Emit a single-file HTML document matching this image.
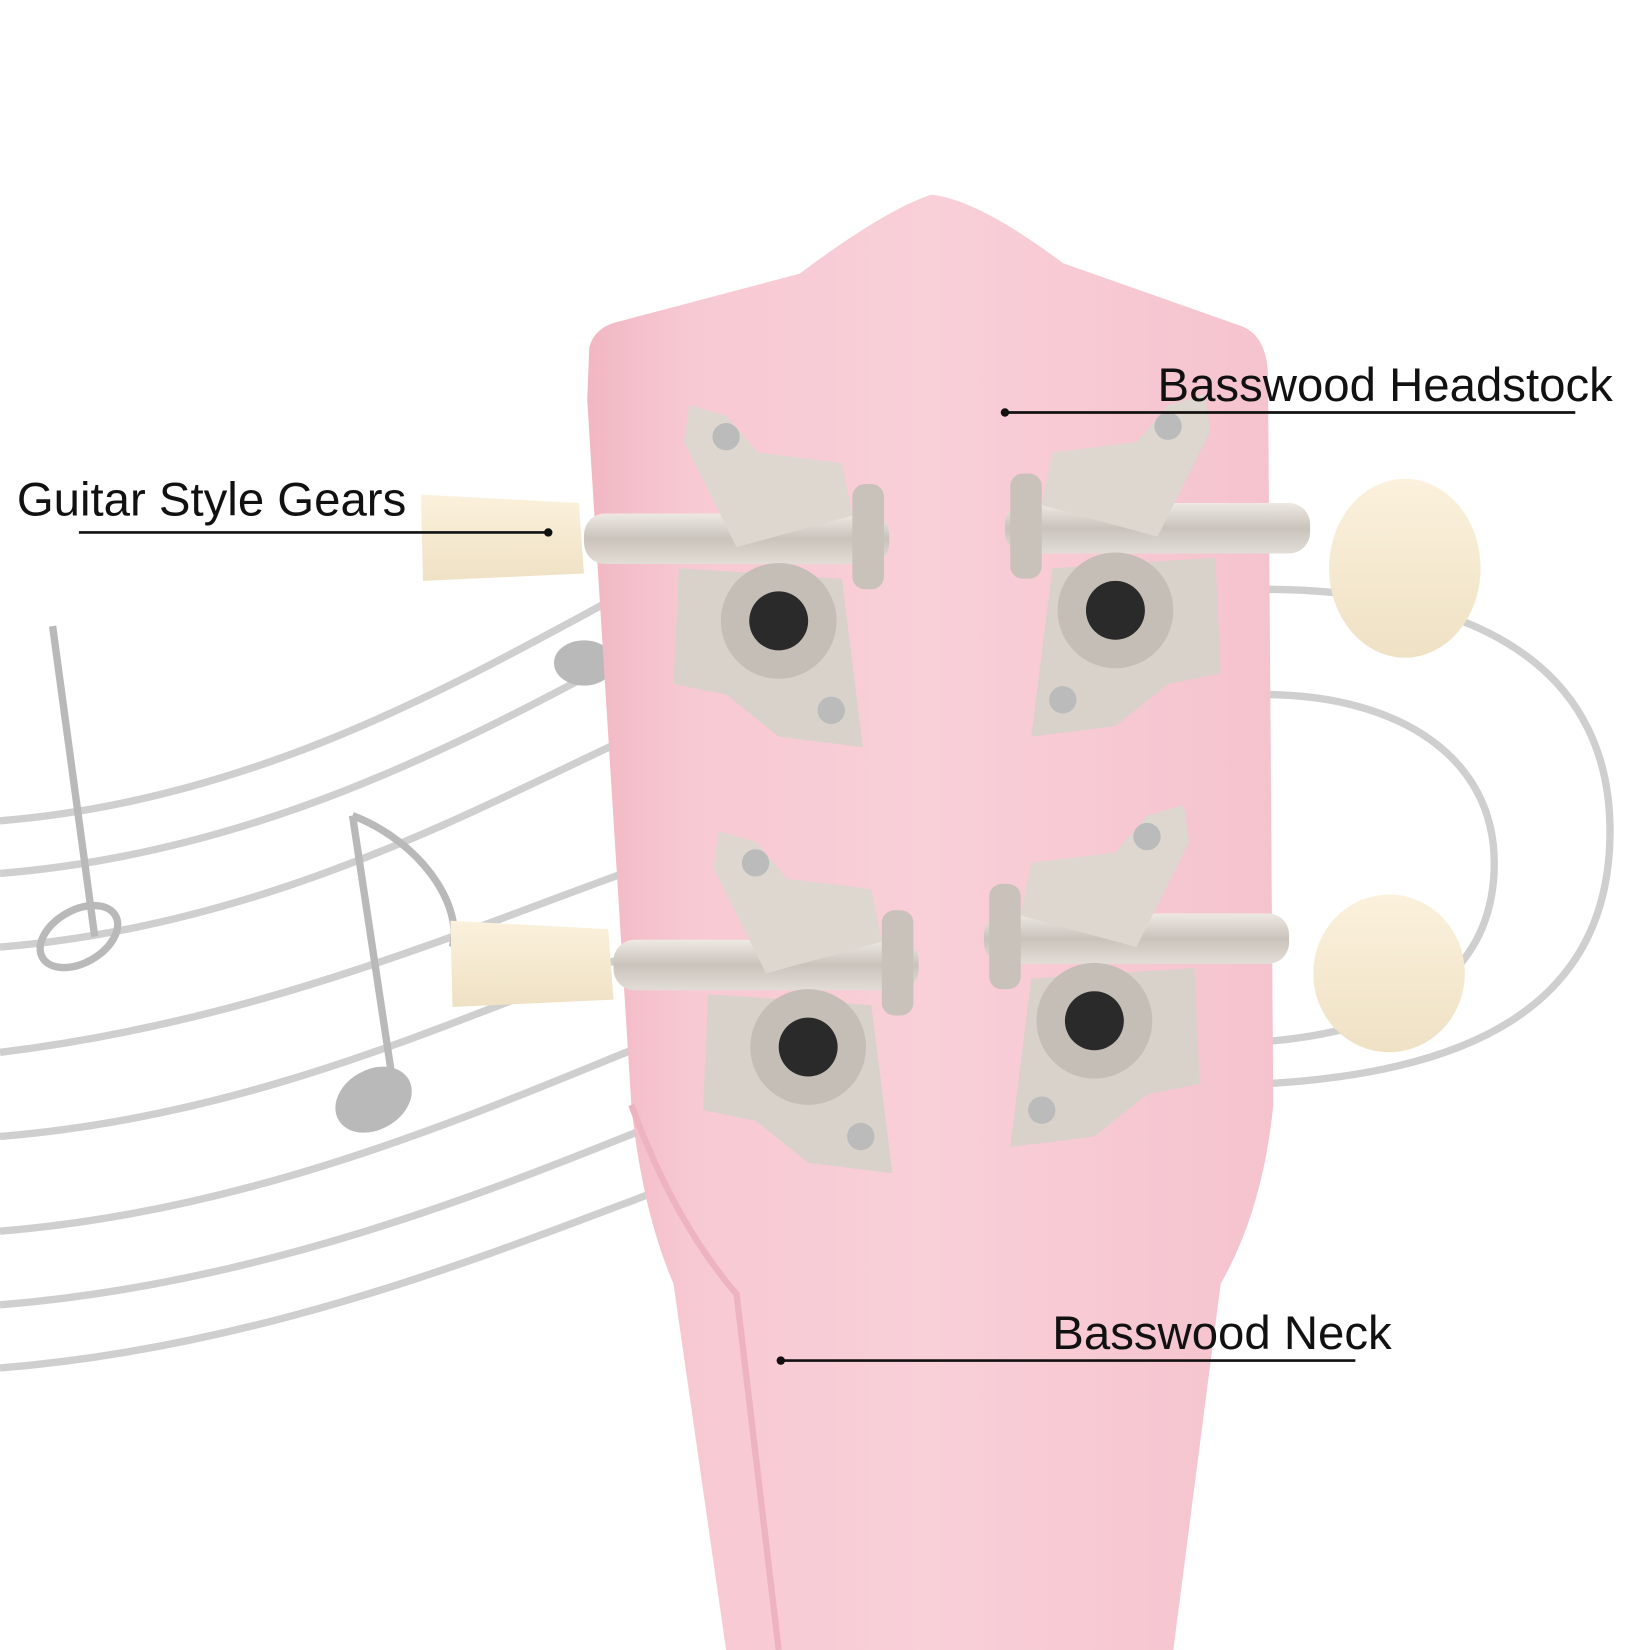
<!DOCTYPE html>
<html><head><style>
html,body{margin:0;padding:0;background:#fff;}
svg{display:block;}
text{font-family:"Liberation Sans",Arial,sans-serif;font-size:45px;fill:#111;}
</style></head><body>
<svg width="1650" height="1650" viewBox="0 0 1568 1568" xmlns="http://www.w3.org/2000/svg">
<defs>
<linearGradient id="pk" x1="0" x2="1">
<stop offset="0" stop-color="#f1b7c3"/><stop offset="0.15" stop-color="#f7c9d3"/><stop offset="0.5" stop-color="#f9cfd8"/><stop offset="1" stop-color="#f5c3ce"/>
</linearGradient>
<linearGradient id="mt" x1="0" x2="0" y1="0" y2="1">
<stop offset="0" stop-color="#eee9e2"/><stop offset="0.5" stop-color="#c9c3bc"/><stop offset="1" stop-color="#e2ddd6"/>
</linearGradient>
<linearGradient id="cr" x1="0" x2="0" y1="0" y2="1">
<stop offset="0" stop-color="#fbf1dc"/><stop offset="1" stop-color="#efe1c4"/>
</linearGradient>
</defs>
<rect width="1568" height="1568" fill="#fff"/>
<g fill="none" stroke="#cfcfcf" stroke-width="7">
<path d="M0 780 C250 760 450 640 600 560"/>
<path d="M0 830 C250 810 450 700 600 620"/>
<path d="M0 900 C250 880 450 770 600 700"/>
<path d="M0 1000 C250 970 450 880 620 820"/>
<path d="M0 1080 C250 1060 450 960 620 900"/>
<path d="M0 1170 C250 1150 470 1050 620 990"/>
<path d="M0 1240 C250 1220 470 1130 620 1070"/>
<path d="M0 1300 C250 1280 470 1190 630 1130"/>
<path d="M1200 560 C1380 560 1530 620 1530 790 C1530 960 1390 1020 1200 1030"/>
<path d="M1200 660 C1330 660 1420 720 1420 820 C1420 930 1330 980 1200 990"/>
</g>
<g fill="#b9b9b9" stroke="#b9b9b9" stroke-width="7">
<line x1="50" y1="595" x2="90" y2="890" fill="none"/>
<ellipse cx="75" cy="890" rx="40" ry="25" fill="none" transform="rotate(-30 75 890)"/>
<line x1="335" y1="775" x2="375" y2="1040" fill="none"/>
<ellipse cx="355" cy="1045" rx="35" ry="25" transform="rotate(-30 355 1045)"/>
<path d="M335 775 C400 800 440 860 430 900" fill="none"/>
<ellipse cx="555" cy="630" rx="25" ry="18"/>
</g>
<path d="M560 330 Q565 310 590 305 L760 260 Q840 200 885 185 Q930 190 1010 250 L1180 310 Q1205 320 1205 360 L1210 1050 Q1200 1150 1160 1220 L1115 1568 L690 1568 L640 1220 Q610 1150 600 1050 L558 380 Z" fill="url(#pk)"/>
<path d="M600 1050 Q640 1160 700 1230 L740 1568" fill="none" stroke="#eeb3c0" stroke-width="6"/>
<g id="tl">
<rect x="555" y="488" width="290" height="48" rx="20" fill="url(#mt)"/>
<path d="M655 385 L690 395 L720 430 L800 440 L810 490 L700 520 L650 420 Z" fill="#ddd7cf"/>
<path d="M645 540 L800 550 L820 710 L740 700 L690 660 L640 650 Z" fill="#d8d2ca"/>
<circle cx="740" cy="590" r="55" fill="#c4beb6"/>
<circle cx="740" cy="590" r="28" fill="#2a2a2a"/>
<circle cx="690" cy="415" r="13" fill="#bbb"/>
<circle cx="790" cy="675" r="13" fill="#bbb"/>
<rect x="810" y="460" width="30" height="100" rx="12" fill="#c8c2ba"/>
</g>
<use href="#tl" transform="translate(28 405)"/>
<g transform="translate(1800 -10) scale(-1 1)"><use href="#tl"/></g>
<g transform="translate(1780 380) scale(-1 1)"><use href="#tl"/></g>
<path d="M400 470 L550 478 L555 545 L402 552 Z" fill="url(#cr)"/>
<path d="M428 875 L578 883 L583 950 L430 957 Z" fill="url(#cr)"/>
<ellipse cx="1335" cy="540" rx="72" ry="85" fill="url(#cr)"/>
<ellipse cx="1320" cy="925" rx="72" ry="75" fill="url(#cr)"/>
<text x="16" y="490">Guitar Style Gears</text>
<line x1="75" y1="506" x2="521" y2="506" stroke="#111" stroke-width="2.5"/>
<circle cx="521" cy="506" r="4" fill="#111"/>
<text x="1100" y="381">Basswood Headstock</text>
<line x1="955" y1="392" x2="1497" y2="392" stroke="#111" stroke-width="2.5"/>
<circle cx="955" cy="392" r="4" fill="#111"/>
<text x="1000" y="1282">Basswood Neck</text>
<line x1="742" y1="1293" x2="1288" y2="1293" stroke="#111" stroke-width="2.5"/>
<circle cx="742" cy="1293" r="4" fill="#111"/>
</svg>
</body></html>
